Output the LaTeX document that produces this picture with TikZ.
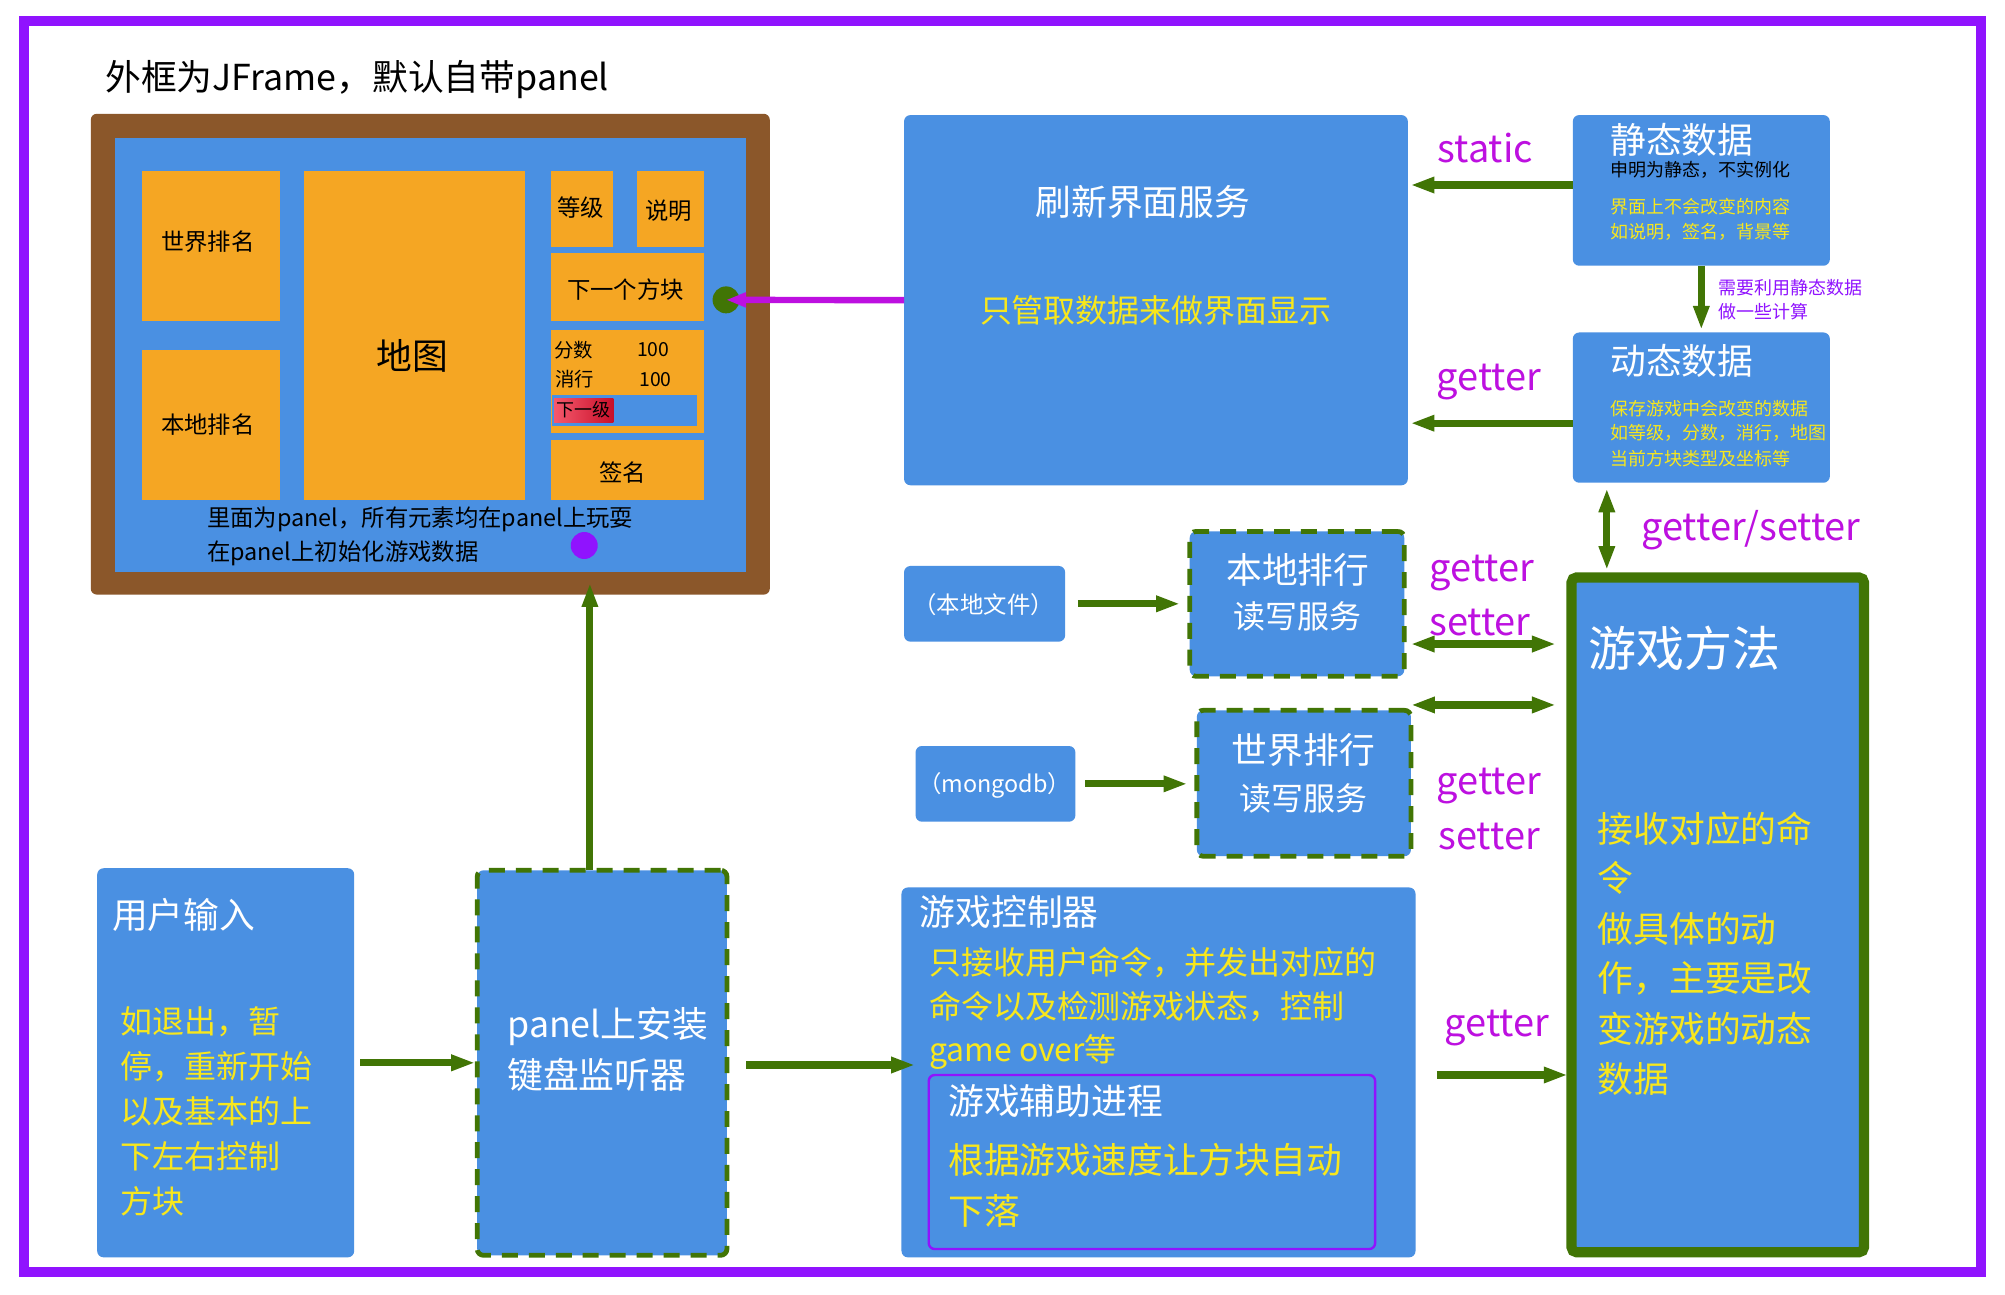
\documentclass[tikz,border=0pt]{standalone}
\usepackage{fontspec}
\setmainfont{Noto Sans CJK SC}
\usetikzlibrary{arrows.meta,fit}

\definecolor{rimviolet}{HTML}{9013FE}
\definecolor{woodbrown}{HTML}{8B572A}
\definecolor{paneblue}{HTML}{4A90E2}
\definecolor{tileorange}{HTML}{F5A623}
\definecolor{leafgreen}{HTML}{417505}
\definecolor{noteyellow}{HTML}{F8E71C}
\definecolor{tagmagenta}{HTML}{BD10E0}
\definecolor{levelpink}{HTML}{F5586C}
\definecolor{levelred}{HTML}{C8102A}

\begin{document}
\begin{tikzpicture}[x=0.64pt, y=-0.64pt,
  pane/.style={fill=paneblue, rounded corners=3.2pt, inner sep=0pt, outer sep=0pt},
  tile/.style={fill=tileorange, inner sep=0pt, outer sep=0pt},
  dashpane/.style={pane, draw=leafgreen, line width=2.4pt, dash pattern=on 8pt off 5.5pt},
  flow/.style={draw=leafgreen, line width=3.6pt, -{Triangle[length=12pt,width=7.5pt]}},
  twoway/.style={flow, {Triangle[length=12pt,width=7.5pt]}-{Triangle[length=12pt,width=7.5pt]}},
  word/.style={inner sep=0pt},
  lead/.style={word, anchor=west},
  headtext/.style={font=\fontsize{17.9pt}{21pt}\selectfont},
  bodytext/.style={font=\fontsize{16pt}{19pt}\selectfont},
  tiletext/.style={font=\fontsize{11.7pt}{14pt}\selectfont},
  notetext/.style={font=\fontsize{9pt}{11pt}\selectfont},
  tagtext/.style={word, text=tagmagenta, font=\fontsize{19pt}{22pt}\selectfont},
  dot/.style={circle, inner sep=0pt, outer sep=0pt, minimum size=13.5pt}]
\useasboundingbox (0,0) rectangle (1568,1012);
\fill[white] (0,0) rectangle (1568,1012);
\draw[rimviolet, line width=5.1pt] (19,16.5) rectangle (1549.5,994.5);

\node[lead, headtext] (title) at (82,62) {外框为JFrame，默认自带panel};

% JFrame and its panel
\node[fill=woodbrown, rounded corners=3pt, inner sep=0pt, outer sep=0pt, fit={(71,89) (602,465)}] (jframe) {};
\node[fill=paneblue, inner sep=0pt, outer sep=0pt, fit={(90,108) (583.5,447)}] (jpanel) {};
\node[tile, fit={(111,133.5) (218.7,251.3)}] (worldtile) {};
\node[tile, fit={(111,273.6) (218.7,391)}] (localtile) {};
\node[tile, fit={(237.8,133.5) (410.2,391)}] (maptile) {};
\node[tile, fit={(431,133.5) (479.6,193.2)}] (leveltile) {};
\node[tile, fit={(498.4,133.5) (550.7,193.2)}] (helptile) {};
\node[tile, fit={(431,197.8) (550.7,251.3)}] (nexttile) {};
\node[tile, fit={(431,258) (550.7,338.5)}] (scoretile) {};
\node[tile, fit={(431,344) (550.7,391)}] (signtile) {};
\node[fill=paneblue, inner sep=0pt, outer sep=0pt, fit={(432,309) (545,333)}] (levelbar) {};
\node[inner sep=0pt, outer sep=0pt, left color=levelpink, middle color=levelpink, right color=levelred, fit={(433.4,312) (479.6,330.7)}] (levelbtn) {};

\node[word, tiletext] (worldtxt) at (162.6,189.2) {世界排名};
\node[word, tiletext] (localtxt) at (162.6,332.3) {本地排名};
\node[word, headtext] (maptxt) at (322.2,278.2) {地图};
\node[word, tiletext] (leveltxt) at (453.9,162.3) {等级};
\node[word, tiletext] (helptxt) at (523.1,164.5) {说明};
\node[word, tiletext] (nexttxt) at (489.2,226.3) {下一个方块};
\node[lead, font=\fontsize{9.7pt}{12pt}\selectfont] (scorekey) at (433,273.6) {分数};
\node[lead, font=\fontsize{9.7pt}{12pt}\selectfont] (scoreval) at (498,273.6) {100};
\node[lead, font=\fontsize{9.7pt}{12pt}\selectfont] (lineskey) at (434,296.7) {消行};
\node[lead, font=\fontsize{9.7pt}{12pt}\selectfont] (linesval) at (499.6,296.7) {100};
\node[lead, notetext] (leveltxt) at (435,320) {下一级};
\node[word, tiletext] (signtxt) at (486.8,369.4) {签名};
\node[lead, tiletext] (panelnote1) at (161.6,406.5) {里面为panel，所有元素均在panel上玩耍};
\node[lead, tiletext] (panelnote2) at (161.6,432.8) {在panel上初始化游戏数据};
\node[dot, fill=leafgreen] (nextdot) at (567.8,234.5) {};
\node[dot, fill=rimviolet] (initdot) at (456.9,426.6) {};

% refresh service and data
\node[pane, fit={(707,90) (1101,379.5)}] (refresh) {};
\node[word, headtext, text=white] (refreshname) at (893.8,157.7) {刷新界面服务};
\node[word, bodytext, text=noteyellow] (refreshnote) at (903.9,243) {只管取数据来做界面显示};

\node[pane, fit={(1230,90) (1431,207.8)}] (staticdata) {};
\node[lead, headtext, text=white] (statictitle) at (1259,109.5) {静态数据};
\node[lead, notetext] (staticsub) at (1259,133) {申明为静态，不实例化};
\node[lead, notetext, text=noteyellow] (staticnote1) at (1259,161.6) {界面上不会改变的内容};
\node[lead, notetext, text=noteyellow] (staticnote2) at (1259,181.7) {如说明，签名，背景等};

\node[pane, fit={(1230,260) (1431,377.5)}] (dynamicdata) {};
\node[lead, headtext, text=white] (dynamictitle) at (1259,282.3) {动态数据};
\foreach \ln [count=\i from 0] in {保存游戏中会改变的数据, 如等级，分数，消行，地图, 当前方块类型及坐标等}
  \node[lead, notetext, text=noteyellow] (dynamicnote\i) at (1259,319.3+19.55*\i) {\ln};

\node[tagtext] (statictag) at (1161.7,116) {static};
\node[tagtext] (gettertag) at (1164.5,299) {getter};
\node[lead, notetext, text=rimviolet] (calcnote1) at (1343.8,225) {需要利用静态数据};
\node[lead, notetext, text=rimviolet] (calcnote2) at (1343.8,244) {做一些计算};
\node[tagtext] (gstag) at (1369.3,414.5) {getter/setter};

% rankings
\node[pane, fit={(707,442.6) (833,501.8)}] (localfile) {};
\node[word, tiletext, text=white] (localfiletxt) at (769.3,473) {（本地文件）};
\node[dashpane, fit={(930.4,415.6) (1098.2,528.9)}] (localrank) {};
\node[word, headtext, text=white] (localranktxt) at (1014.9,445.8) {本地排行};
\node[word, bodytext, text=white] (localrankrw) at (1014.9,482.3) {读写服务};
\node[tagtext] (localget) at (1158.9,448.4) {getter};
\node[tagtext] (localset) at (1157.4,487) {setter};

\node[pane, fit={(716,583.4) (841,642.6)}] (mongo) {};
\node[word, tiletext, text=white] (mongotxt) at (777.7,614.4) {（mongodb）};
\node[dashpane, fit={(936,555.5) (1103.4,669.6)}] (worldrank) {};
\node[word, headtext, text=white] (worldranktxt) at (1019.4,586.5) {世界排行};
\node[word, bodytext, text=white] (worldrankrw) at (1019.4,624.4) {读写服务};
\node[tagtext] (worldget) at (1164.5,615) {getter};
\node[tagtext] (worldset) at (1164.5,654) {setter};

% game methods
\node[pane, draw=leafgreen, line width=5.1pt, rounded corners=2.5pt, fit={(1229,451.6) (1457.7,979.3)}] (gamemethod) {};
\node[lead, font=\fontsize{24pt}{28pt}\selectfont, text=white] (gamemethodtitle) at (1242,507) {游戏方法};
\foreach \ln [count=\i from 0] in {接收对应的命, 令, 做具体的动, 作，主要是改, 变游戏的动态, 数据}
  \node[lead, headtext, text=noteyellow] (gamemethodnote\i) at (1249.3,647.8+39.15*\i) {\ln};

% user input, listener, controller
\node[pane, fit={(76,679) (277,983.3)}] (userinput) {};
\node[lead, headtext, text=white] (userinputtitle) at (87.3,715.6) {用户输入};
\foreach \ln [count=\i from 0] in {如退出，暂, 停，重新开始, 以及基本的上, 下左右控制, 方块}
  \node[lead, bodytext, text=noteyellow] (userinputnote\i) at (93.8,799+35.2*\i) {\ln};

\node[dashpane, fit={(373.2,680.6) (568.5,981.7)}] (keylistener) {};
\node[lead, headtext, text=white] (keylistener1) at (396.5,802.9) {panel上安装};
\node[lead, headtext, text=white] (keylistener2) at (396.5,840.7) {键盘监听器};

\node[pane, fit={(705,694) (1107,983.3)}] (controller) {};
\node[lead, headtext, text=white] (controllertitle) at (719,713) {游戏控制器};
\foreach \ln [count=\i from 0] in {只接收用户命令，并发出对应的, 命令以及检测游戏状态，控制, game over等}
  \node[lead, bodytext, text=noteyellow] (controllernote\i) at (726.3,752.6+34.95*\i) {\ln};
\node[draw=rimviolet, line width=1.2pt, rounded corners=3pt, inner sep=0pt, outer sep=0pt, fit={(726.3,840.7) (1075.4,976.8)}] (autodrop) {};
\node[lead, headtext, text=white] (autodroptitle) at (741.4,860.8) {游戏辅助进程};
\foreach \ln [count=\i from 0] in {根据游戏速度让方块自动, 下落}
  \node[lead, headtext, text=noteyellow] (autodropnote\i) at (741.4,907.2+39.7*\i) {\ln};
\node[tagtext] (ctrlget) at (1170.8,804.2) {getter};

% connectors
\draw[draw=tagmagenta, line width=3.2pt, -{Triangle[length=10pt,width=7pt]}] (refresh.west) -- (nextdot.center);
\coordinate (staticout) at ([yshift=2.7pt]staticdata.west);
\draw[flow, shorten >=1.3pt] (staticout) -- (staticout -| refresh.east);
\coordinate (dynamicout) at ([yshift=-7.8pt]dynamicdata.west);
\draw[flow, shorten >=1.3pt] (dynamicout) -- (dynamicout -| refresh.east);
\draw[flow, line width=3.4pt, shorten >=1.3pt] (staticdata.south) -- (dynamicdata.north);
\coordinate (dynamicdown) at ([xshift=-47.3pt]dynamicdata.south);
\draw[twoway, shorten <=2.8pt, shorten >=3.7pt] (dynamicdown) -- (dynamicdown |- gamemethod.north);
\draw[flow, shorten <=6.3pt, shorten >=4.8pt] (localfile.east) -- (localfile.east -| localrank.west);
\draw[flow, shorten <=4.9pt, shorten >=4.7pt] (mongo.east) -- (mongo.east -| worldrank.west);
\coordinate (localout) at ([yshift=-20.1pt]localrank.east);
\draw[twoway, shorten <=3.2pt, shorten >=7.8pt] (localout) -- (localout -| gamemethod.west);
\coordinate (worldout) at ([yshift=39.2pt]worldrank.east);
\draw[twoway, shorten >=7.8pt] (worldout) -- (worldout -| gamemethod.west);
\draw[flow, shorten <=3.1pt, shorten >=1pt] (userinput.east) -- (userinput.east -| keylistener.west);
\coordinate (keyout) at ([yshift=-1.1pt]keylistener.east);
\draw[flow, shorten <=9.6pt, shorten >=-6.8pt] (keyout) -- (keyout -| controller.west);
\coordinate (ctrlout) at ([yshift=-1.3pt]controller.east);
\draw[flow, shorten <=10.7pt, shorten >=1.9pt] (ctrlout) -- (ctrlout -| gamemethod.west);
\coordinate (keyup) at ([xshift=-6.1pt]keylistener.north);
\draw[flow, shorten >=-5.8pt] (keyup) -- (keyup |- jframe.south);
\end{tikzpicture}
\end{document}
